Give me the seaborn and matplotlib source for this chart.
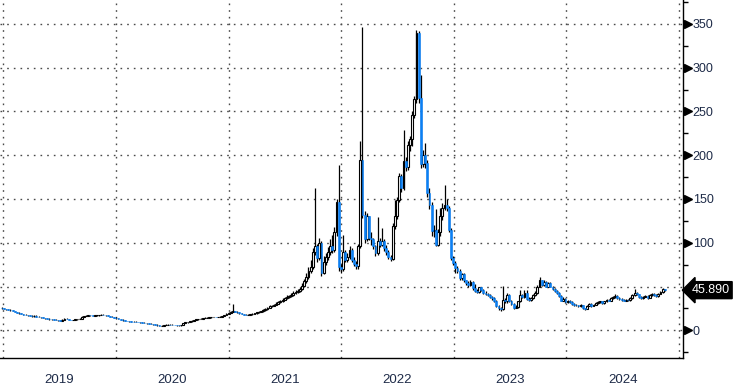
import pandas as pd
import matplotlib
matplotlib.use("Agg")
import matplotlib.pyplot as plt
import matplotlib.dates as mdates
import matplotlib.transforms as mtransforms
from matplotlib.ticker import MultipleLocator
import seaborn as sns

# Weekly candles, one block per year
close_2019 = [25.0, 24.5, 24.0, 23.2, 22.8, 22.0, 21.0, 20.2, 19.5, 18.8, 18.0, 17.6, 17.0, 16.8, 16.0, 16.8, 15.8, 15.2,
              14.8, 14.3, 13.8, 13.2, 12.6, 12.4, 12.0, 11.6, 11.4, 11.2, 12.0, 13.2, 12.8, 12.0, 11.6, 11.8, 12.4, 12.8,
              13.2, 15.5, 16.2, 16.8, 17.5, 17.0, 16.6, 17.0, 17.2, 17.5, 17.8, 17.6, 17.2, 16.5, 15.8, 15.0, 14.4]
high_2019 = [26.2, 25.4, 24.9, 24.4, 23.8, 23.3, 22.4, 21.5, 20.6, 19.9, 19.2, 18.4, 18.0, 17.5, 17.1, 17.2, 17.0, 16.2,
             15.6, 15.2, 14.6, 14.2, 13.6, 13.1, 12.8, 12.4, 12.0, 11.9, 12.5, 13.8, 13.6, 13.1, 12.3, 12.3, 12.9, 13.3,
             13.8, 16.5, 16.8, 17.3, 18.0, 17.9, 17.4, 17.5, 17.7, 18.0, 18.3, 18.2, 17.9, 17.5, 16.8, 16.1, 15.3]
low_2019 = [24.6, 24.1, 23.6, 22.9, 22.4, 21.6, 20.7, 19.9, 19.1, 18.4, 17.7, 17.2, 16.7, 16.4, 15.7, 15.7, 15.5, 14.9,
            14.5, 14.0, 13.5, 12.9, 12.3, 12.1, 11.7, 11.3, 11.1, 10.9, 11.0, 11.8, 12.5, 11.7, 11.3, 11.3, 11.6, 12.1,
            12.5, 13.0, 15.2, 15.9, 16.5, 16.7, 16.3, 16.3, 16.7, 16.9, 17.2, 17.3, 16.9, 16.2, 15.5, 14.7, 14.1]

close_2020 = [13.8, 13.0, 12.2, 11.4, 10.8, 10.4, 10.2, 10.0, 9.8, 9.5, 9.3, 9.0, 8.7, 8.4, 8.0, 7.6, 7.2, 6.9, 6.6,
              5.8, 5.0, 5.4, 6.0, 6.3, 6.5, 6.4, 6.2, 6.0, 5.8, 5.6, 6.2, 8.2, 9.0, 9.6, 10.3, 11.0, 11.8, 12.4, 12.8,
              13.4, 14.0, 14.4, 14.6, 14.9, 15.2, 15.3, 15.0, 15.4, 15.8, 16.3, 17.5, 19.0]
high_2020 = [14.7, 14.1, 13.3, 12.5, 11.7, 11.1, 10.8, 10.6, 10.4, 10.1, 9.9, 9.6, 9.3, 9.0, 8.7, 8.3, 7.9, 7.5, 7.2,
             6.9, 6.1, 5.8, 6.4, 6.7, 6.9, 6.8, 6.7, 6.5, 6.3, 6.1, 6.6, 8.7, 9.4, 10.0, 10.7, 11.4, 12.2, 12.8, 13.2,
             13.8, 14.4, 14.8, 15.0, 15.3, 15.6, 15.8, 15.7, 15.8, 16.2, 16.8, 18.0, 19.6]
low_2020 = [13.5, 12.7, 11.9, 11.1, 10.5, 10.1, 9.9, 9.7, 9.5, 9.2, 9.0, 8.7, 8.4, 8.1, 7.7, 7.3, 6.9, 6.6, 6.3, 5.5,
            4.6, 4.7, 5.1, 5.7, 6.0, 6.1, 5.9, 5.7, 5.5, 5.3, 5.3, 5.9, 7.9, 8.7, 9.3, 10.0, 10.7, 11.5, 12.1, 12.5,
            13.1, 13.7, 14.1, 14.3, 14.6, 14.9, 14.7, 14.7, 15.1, 15.5, 16.0, 17.2]

close_2021 = [20.0, 21.0, 22.0, 21.0, 20.5, 19.4, 18.6, 17.8, 17.5, 17.8, 18.2, 18.8, 19.6, 20.4, 20.8, 21.8, 23.0,
              24.2, 25.8, 27.5, 28.2, 29.2, 30.5, 32.2, 33.6, 35.2, 37.0, 38.0, 38.8, 40.5, 42.5, 44.0, 45.0, 46.7,
              51.0, 56.0, 61.0, 68.0, 72.0, 89.0, 96.0, 83.0, 100.0, 66.0, 78.0, 84.0, 90.0, 96.0, 92.0, 112.0, 146.0,
              72.0]
high_2021 = [20.8, 21.8, 29.6, 22.6, 21.6, 21.0, 19.9, 19.0, 18.3, 18.4, 18.8, 19.4, 20.3, 21.2, 21.6, 22.6, 23.8,
             25.2, 26.8, 28.5, 29.4, 30.4, 31.8, 33.5, 35.0, 36.6, 38.6, 39.8, 40.4, 42.2, 44.4, 46.0, 47.0, 49.0,
             53.5, 59.0, 65.0, 72.0, 80.0, 94.0, 163.0, 99.0, 106.0, 102.0, 85.0, 88.0, 95.0, 104.0, 109.0, 118.0,
             150.0, 189.0]
low_2021 = [18.5, 19.6, 20.6, 20.5, 20.0, 19.0, 18.2, 17.4, 17.0, 17.1, 17.4, 17.9, 18.4, 19.2, 20.0, 20.4, 21.3, 22.5,
            23.7, 25.2, 26.8, 27.6, 28.6, 29.8, 31.5, 32.8, 34.5, 36.2, 37.0, 37.9, 39.6, 41.5, 43.0, 44.0, 45.5, 49.5,
            54.0, 59.0, 65.0, 70.0, 86.0, 78.0, 80.0, 62.0, 64.0, 75.0, 80.0, 86.0, 88.0, 90.0, 108.0, 68.0]

close_2022 = [70, 90, 80, 84, 92, 80, 76, 74, 96, 195, 132, 104, 130, 106, 104, 96, 88, 102, 98, 102, 94, 89, 84, 82,
              119, 130, 149, 176, 162, 193, 186, 212, 218, 246, 264, 340, 265, 190, 200, 191, 157, 143, 113, 115, 98,
              112, 130, 140, 143, 140, 115, 83]
high_2022 = [76, 109, 92, 88, 96, 94, 84, 79, 99, 216, 346, 136, 134, 131, 112, 106, 98, 129, 106, 117, 104, 97, 92,
             86, 122, 149, 152, 180, 178, 229, 198, 216, 222, 250, 268, 343, 342, 292, 206, 214, 195, 162, 146, 120,
             139, 116, 140, 145, 166, 150, 142, 117]
low_2022 = [66, 68, 78, 78, 82, 78, 73, 70, 70, 94, 128, 100, 102, 103, 98, 93, 85, 86, 95, 96, 91, 86, 81, 79, 80, 116,
            127, 146, 158, 160, 182, 183, 205, 210, 242, 260, 260, 185, 186, 185, 152, 138, 108, 107, 96, 96, 108, 126,
            137, 136, 112, 80]

close_2023 = [77, 71, 68, 60, 64, 57, 54, 52, 55, 48, 45, 44, 49, 46, 43, 42, 40.5, 38.5, 36.5, 33.5, 28, 25, 24, 35,
              33, 40, 34, 30, 26, 27, 33, 40, 38, 43, 36, 35, 37, 40, 43, 50, 57, 52, 55, 50, 54, 50, 47, 45, 43, 39,
              34, 36]
high_2023 = [85, 79, 74, 70, 66, 65, 58, 56, 57, 56, 53, 47, 50, 50, 47, 44.5, 43, 41.5, 39.5, 37.5, 34.5, 29, 26.5,
             51, 37, 43, 41, 35, 31, 28.5, 34, 46, 41.5, 46, 46, 37.5, 38.5, 41.5, 44.5, 52, 61, 58, 57, 56, 55.5, 55,
             51, 48, 46, 44, 40, 37.5]
low_2023 = [75, 66, 66, 58, 58, 55, 52, 50, 50.5, 46.5, 43.5, 42.5, 43, 44.5, 41.5, 40.5, 39, 37, 35, 32, 26.5, 23.5,
            22.5, 23, 31.5, 31.5, 32.5, 28.5, 24.5, 25, 26, 32, 36.5, 36.5, 34.5, 33.5, 34, 36, 39, 42, 49, 51, 51, 49,
            49, 49, 46, 44, 42, 38, 33, 33]

close_2024 = [32, 34, 32, 30, 29, 28.5, 28, 28.8, 25, 24.5, 28, 30, 28, 29, 31, 32, 33, 31, 33, 35, 34, 37, 38, 39.5,
              37, 36, 35, 34, 35, 34.5, 37, 40, 43, 41, 38, 37, 38, 39, 37, 40, 41.5, 40, 39, 42, 44, 47, 45.89]
high_2024 = [37, 35, 35, 33, 31, 30, 29.5, 30, 29.5, 26, 29, 31.5, 31, 30, 32, 33, 34, 34, 34, 36, 36, 38, 39.5, 41,
             40, 38, 37, 36, 36, 36, 38, 41, 47, 44, 42, 39, 39.5, 40, 40, 41, 42.5, 42.5, 41, 43, 45, 48.5, 47.5]
low_2024 = [31, 31, 31, 29, 28, 27.5, 27, 27, 24.5, 23.5, 24, 27.5, 27, 27.5, 28.5, 30.5, 31.5, 30, 30, 32.5, 33, 33.5,
            36, 37, 36, 35, 34, 33, 33, 33.5, 34, 36, 39, 40, 37, 36, 36, 37.5, 36, 36.5, 39.5, 39, 38, 38.5, 41, 43,
            45]

first_open = 25.5
years = ["2019", "2020", "2021", "2022", "2023", "2024"]
y_major = [0, 50, 100, 150, 200, 250, 300, 350]
y_hidden = 50  # covered by the last-value tag
last_value = 45.89
last_label = "45.890"

closes = close_2019 + close_2020 + close_2021 + close_2022 + close_2023 + close_2024
highs = high_2019 + high_2020 + high_2021 + high_2022 + high_2023 + high_2024
lows = low_2019 + low_2020 + low_2021 + low_2022 + low_2023 + low_2024
opens = [first_open] + closes[:-1]

df = pd.DataFrame({
    "date": pd.date_range("2018-12-28", periods=len(closes), freq="7D"),
    "open": opens, "high": highs, "low": lows, "close": closes,
})

BLUE = "#0a80f5"
TEXT = "#1e2b48"

sns.set_theme(style="white")
plt.rcParams["font.family"] = ["Liberation Sans", "DejaVu Sans"]

fig = plt.figure(figsize=(7.33, 3.92), dpi=100)
ax = fig.add_axes([0, 0.0867, 0.9318, 0.9133])

x = mdates.date2num(df["date"])
up = (df["close"] >= df["open"]).values
body_lo = df[["open", "close"]].min(axis=1).values
body_h = (df["close"] - df["open"]).abs().values

ax.vlines(x, df["low"], df["high"], color="black", lw=0.9, zorder=3)
ax.bar(x[up], body_h[up], bottom=body_lo[up], width=6, color="white",
       edgecolor="black", lw=0.8, zorder=4)
ax.bar(x[~up], body_h[~up], bottom=body_lo[~up], width=6, color=BLUE,
       edgecolor=BLUE, lw=0.4, zorder=4)

ax.set_xlim(mdates.date2num(pd.Timestamp("2018-12-22")), mdates.date2num(pd.Timestamp("2025-01-13")))
ax.set_ylim(-31.6, 377.2)

# x axis: year boundaries (long gray ticks + dotted grid), quarter minor ticks
ax.xaxis.set_major_locator(mdates.YearLocator())
ax.xaxis.set_minor_locator(mdates.MonthLocator(bymonth=[1, 4, 7, 10]))
ax.tick_params(axis="x", which="major", direction="out", length=25, width=1,
               color="#888888", labelbottom=False)
ax.tick_params(axis="x", which="minor", direction="out", length=3.5, width=1, color="black")

# y axis on the right
ax.yaxis.tick_right()
ax.set_yticks(y_major)
ax.set_yticklabels(["" if v == y_hidden else str(v) for v in y_major])
ax.yaxis.set_minor_locator(MultipleLocator(25))
ax.tick_params(axis="y", which="major", length=0, pad=7, labelsize=9, labelcolor=TEXT)
ax.tick_params(axis="y", which="minor", direction="out", length=3.5, width=1, color="black")

ax.grid(True, which="major", axis="both", color="#4a4a4a", lw=1.0, linestyle=(0, (1.2, 3.6)))
ax.set_axisbelow(True)

for side in ["left", "top"]:
    ax.spines[side].set_visible(False)
for side in ["right", "bottom"]:
    ax.spines[side].set_color("black")
    ax.spines[side].set_linewidth(1.0)

# triangle markers at the major y ticks
ytrans = mtransforms.blended_transform_factory(ax.transAxes, ax.transData)
marked = [v for v in y_major if v != y_hidden]
ax.plot([1 + 4.5 / 683] * len(marked), marked, linestyle="none", marker=">",
        markersize=5.5, color="black", transform=ytrans, clip_on=False)

# last value tag
ax.text(1 + 8.5 / 683, last_value, last_label, transform=ytrans, color="white", fontsize=9,
        ha="left", va="center", clip_on=False,
        bbox=dict(boxstyle="larrow,pad=0.2", fc="black", ec="black"))

# year labels under the axis
xtrans = mtransforms.blended_transform_factory(ax.transData, ax.transAxes)
for yr in years:
    mid = mdates.date2num(pd.Timestamp(f"{yr}-07-02"))
    ax.text(mid, -0.062, yr, transform=xtrans, ha="center", va="center",
            fontsize=9.5, color=TEXT, clip_on=False)

fig.savefig("out.png", dpi=100)
